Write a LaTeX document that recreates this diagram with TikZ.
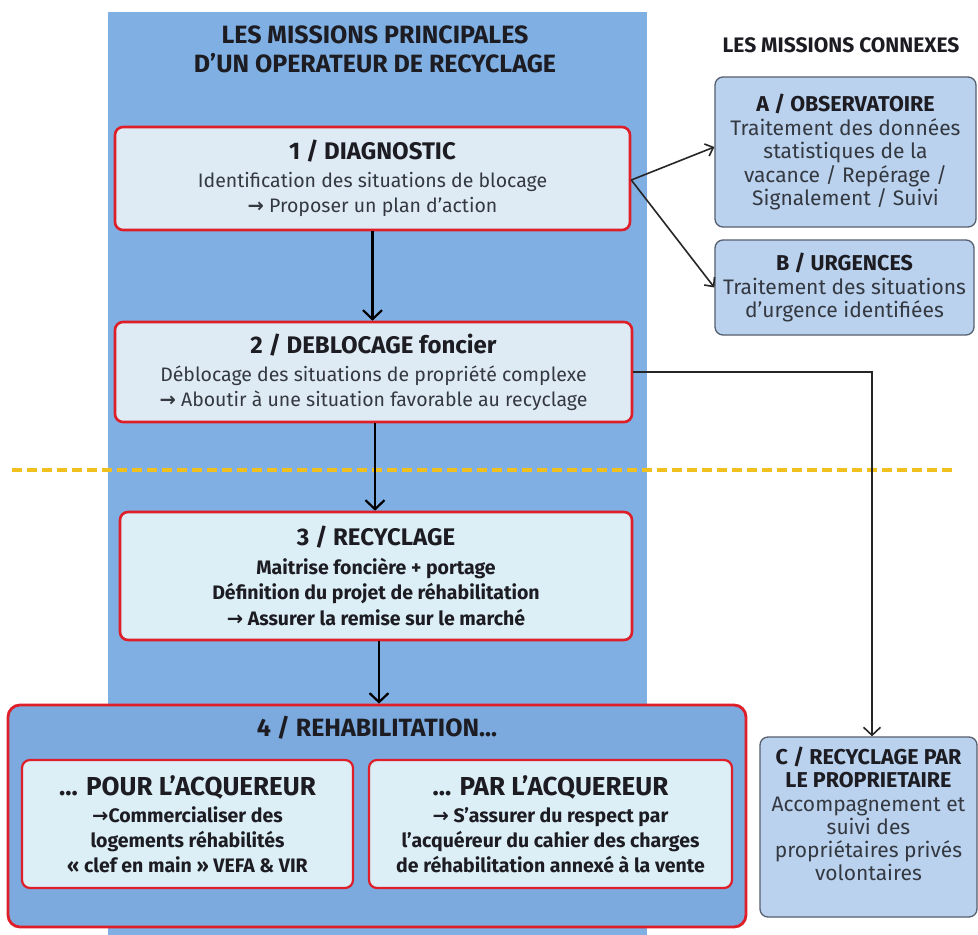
\documentclass[tikz,border=0pt]{standalone}
\usepackage{fontspec}
\setmainfont{Fira Sans}
\newfontfamily\symfont{DejaVu Sans}
\usetikzlibrary{arrows.meta,calc}
\definecolor{panel}{RGB}{128,176,227}
\definecolor{boxfill}{RGB}{222,234,244}
\definecolor{innerfill}{RGB}{220,238,246}
\definecolor{boxred}{RGB}{222,30,40}
\definecolor{bigfill}{RGB}{124,170,222}
\definecolor{sidefill}{RGB}{186,210,238}
\definecolor{sidegray}{RGB}{85,95,110}
\definecolor{dashyellow}{RGB}{240,192,30}
\definecolor{ink}{RGB}{28,28,34}
\definecolor{bodyink}{RGB}{52,56,64}
\newcommand{\myarrow}{{\symfont\bfseries →}}
\newcommand{\btitle}[1]{{\fontsize{24}{28}\selectfont\bfseries\color{ink}#1}}
\newcommand{\stitle}[1]{{\fontsize{21.5}{24}\selectfont\bfseries\color{ink}#1}}
\tikzset{
  mainbox/.style={draw=boxred, line width=2.6pt, fill=boxfill, rounded corners=8pt,
    align=center, inner sep=0pt, text=bodyink, font=\fontsize{19.5}{25}\selectfont},
  innerbox/.style={mainbox, fill=innerfill, line width=2.2pt, text=ink,
    font=\fontsize{19.5}{25}\selectfont\bfseries},
  bigbox/.style={draw=boxred, line width=2.8pt, fill=bigfill, rounded corners=12pt, inner sep=0pt},
  sidebox/.style={draw=sidegray, line width=1.3pt, fill=sidefill, rounded corners=8pt,
    align=center, inner sep=0pt, text=bodyink, font=\fontsize{21}{23.5}\selectfont},
  sidetext/.style={align=center, inner sep=0pt, text=bodyink, font=\fontsize{21}{23.3}\selectfont},
  flow/.style={-{Straight Barb[length=9pt,width=19pt,line width=2.2pt]}, line width=2.4pt, draw=black},
  side/.style={-{Straight Barb[length=7pt,width=13pt,line width=1.6pt]}, line width=1.6pt, draw=black!85},
  sidedown/.style={-{Straight Barb[length=8pt,width=17pt,line width=1.6pt]}, line width=1.6pt, draw=black!85},
  yline/.style={draw=dashyellow, line width=3.5pt, dash pattern=on 10pt off 5pt},
  plaintext/.style={align=center, inner sep=0pt, text=ink}
}
\begin{document}
\begin{tikzpicture}[x=1pt,y=-1pt]
\useasboundingbox (0,0) rectangle (978,935);
\fill[white] (0,0) rectangle (978,935);
\fill[panel] (108,12) rectangle (647,935);

% titles
\node[plaintext, font=\fontsize{25}{29}\selectfont\bfseries] (title) at (375,49)
  {LES MISSIONS PRINCIPALES\\D’UN OPERATEUR DE RECYCLAGE};
\node[plaintext, font=\fontsize{21}{24}\selectfont\bfseries] (ctitle) at (841,45)
  {LES MISSIONS CONNEXES};

% yellow dashed separator
\coordinate (yl) at (12,470);
\coordinate (yr) at (956,470);
\draw[yline] (yl) -- (yr);

% main column
\node[mainbox, minimum width=515pt, minimum height=103pt] (b1) at (372.5,178.5)
  {\btitle{1 / DIAGNOSTIC}\\[3pt]
   Identification des situations de blocage\\
   \myarrow\ Proposer un plan d’action};
\node[mainbox, minimum width=517pt, minimum height=100pt] (b2) at (373.5,372)
  {\btitle{2 / DEBLOCAGE foncier}\\[3pt]
   Déblocage des situations de propriété complexe\\
   \myarrow\ Aboutir à une situation favorable au recyclage};
\node[mainbox, minimum width=512pt, minimum height=128pt, fill=innerfill, text=ink,
      font=\fontsize{19.5}{25.5}\selectfont\bfseries] (b3) at (376,576)
  {\btitle{3 / RECYCLAGE}\\[3pt]
   Maitrise foncière + portage\\
   Définition du projet de réhabilitation\\
   \myarrow\ Assurer la remise sur le marché};

\node[bigbox, minimum width=738pt, minimum height=222pt] (b4) at (377,816) {};
\node[plaintext, font=\fontsize{25}{28}\selectfont\bfseries] (t4) at (377,728)
  {4 / REHABILITATION...};
\node[innerbox, minimum width=331pt, minimum height=128pt] (b4l) at (187.5,824)
  {{\fontsize{26}{28}\selectfont ... POUR L’ACQUEREUR}\\[2pt]
   \myarrow Commercialiser des\\
   logements réhabilités\\
   « clef en main » VEFA \& VIR};
\node[innerbox, minimum width=363pt, minimum height=128pt] (b4r) at (550.5,824)
  {{\fontsize{26}{28}\selectfont ... PAR L’ACQUEREUR}\\[2pt]
   \myarrow\ S’assurer du respect par\\
   l’acquéreur du cahier des charges\\
   de réhabilitation annexé à la vente};

% side column
\node[sidebox, minimum width=261pt, minimum height=150pt] (bA) at (845.5,152)
  {\stitle{A / OBSERVATOIRE}\\
   Traitement des données\\
   statistiques de la\\
   vacance / Repérage /\\
   Signalement / Suivi};
\node[sidebox, minimum width=259pt, minimum height=95pt] (bB) at (844.5,287.5)
  {\stitle{B / URGENCES}\\
   Traitement des situations\\
   d’urgence identifiées};
\node[sidebox, minimum width=217pt, minimum height=180pt] (bC) at (868.5,827) {};
\node[sidetext] (tC) at (868.5,814)
  {\stitle{C / RECYCLAGE PAR}\\
   \stitle{LE PROPRIETAIRE}\\
   Accompagnement et\\
   suivi des\\
   propriétaires privés\\
   volontaires};

% connectors
\draw[flow] (b1.south) -- (b1.south |- b2.north);
\draw[flow] ([xshift=1.5pt]b2.south) -- ([xshift=1.5pt]b2.south |- b3.north);
\draw[flow] ([xshift=3pt]b3.south) -- ([xshift=3pt]b3.south |- b4.north);
\draw[side] ([yshift=-1.5pt]b1.east) -- ([yshift=5pt]bA.west);
\draw[side] ([yshift=-1.5pt]b1.east) -- (bB.west);
\draw[sidedown] (b2.east) -| ([xshift=3.5pt]bC.north);
\end{tikzpicture}
\end{document}
